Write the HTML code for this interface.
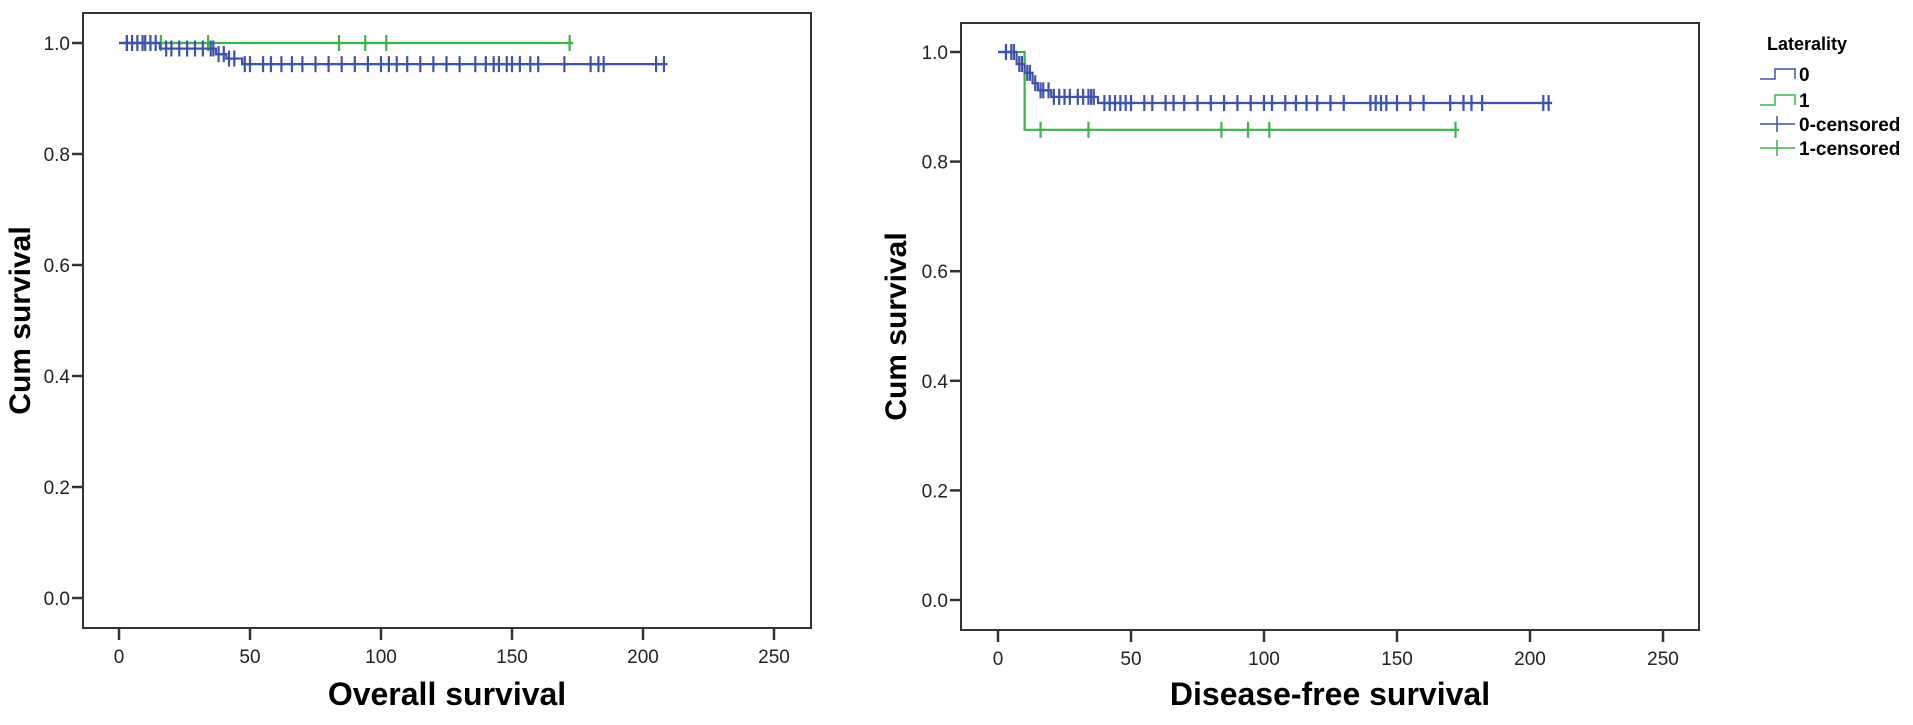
<!DOCTYPE html>
<html><head><meta charset="utf-8"><style>
body{margin:0;background:#fff;}
svg{display:block;font-family:"Liberation Sans",Arial,sans-serif;}
</style></head><body>
<svg id="chart" width="1913" height="725" viewBox="0 0 1913 725" xmlns="http://www.w3.org/2000/svg">
<g id="left"></g>
<g id="right"></g>
<g id="legend">
 <text x="1767" y="50" font-size="18" font-weight="bold">Laterality</text>
 <g><path d="M1760 79 H1775 V69 H1795 V79" fill="none" stroke="#3f51a8" stroke-width="1.5"/><text x="1799" y="81" font-size="19" font-weight="bold">0</text></g>
 <g><path d="M1760 105 H1775 V95 H1795 V105" fill="none" stroke="#3cb44a" stroke-width="1.5"/><text x="1799" y="107" font-size="19" font-weight="bold">1</text></g>
 <g><path d="M1760 124 H1795 M1777 116 V132" stroke="#3f51a8" stroke-width="1.5"/><text x="1799" y="131" font-size="19" font-weight="bold">0-censored</text></g>
 <g><path d="M1760 148 H1795 M1777 140 V156" stroke="#3cb44a" stroke-width="1.5"/><text x="1799" y="155" font-size="19" font-weight="bold">1-censored</text></g>
</g>
</svg>
<script>
// X ticks / Y ticks
const xTicks = [0, 50, 100, 150, 200, 250];
const yTicks = [0.0, 0.2, 0.4, 0.6, 0.8, 1.0];
const yTickLabels = ["0.0", "0.2", "0.4", "0.6", "0.8", "1.0"];

// Overall survival, group 0 (event times and survival after each)
const osTimes0 = [0, 15.6, 37, 41, 47];
const osSurv0 = [1.0, 0.99, 0.98, 0.972, 0.962];
const osEnd0 = 208;
const osCens0 = [3,5,7,9,10,12,14,18,20,23,26,29,32,35,36,38,40,42,44,48,50,55,58,62,66,70,75,80,85,90,95,100,103,106,110,115,120,125,130,136,140,143,145,148,150,153,157,160,170,180,183,185,205,208];
// Overall survival, group 1
const osTimes1 = [0];
const osSurv1 = [1.0];
const osEnd1 = 172;
const osCens1 = [3, 16, 34, 84, 94, 102, 172];

// Disease-free survival, group 0
const dfsTimes0 = [0, 7, 10, 13, 15, 20, 37.6];
const dfsSurv0 = [1.0, 0.978, 0.962, 0.943, 0.93, 0.918, 0.907];
const dfsEnd0 = 206;
const dfsCens0 = [3,5,6,8,9,11,12,14,16,17,19,21,23,25,27,30,32,34,35,36,40,42,44,46,48,50,55,58,63,66,70,75,80,85,90,95,100,103,108,112,116,120,125,130,140,142,144,146,150,155,160,170,175,178,182,205,207];
// Disease-free survival, group 1
const dfsTimes1 = [0, 10];
const dfsSurv1 = [1.0, 0.858];
const dfsEnd1 = 172;
const dfsCens1 = [3, 16, 34, 84, 94, 102, 172];

const NS = "http://www.w3.org/2000/svg";
function mk(parent, tag, attrs, text){
  const e = document.createElementNS(NS, tag);
  for (const k in attrs) e.setAttribute(k, attrs[k]);
  if (text !== undefined) e.textContent = text;
  parent.appendChild(e);
  return e;
}
function stepVal(times, surv, t){
  let s = surv[0];
  for (let i=0;i<times.length;i++) if (times[i] <= t) s = surv[i];
  return s;
}

function drawPanel(g, P){
  const xs = t => P.x0 + t * P.xk;
  const ys = v => P.y0 - v * P.yk;
  const frame = mk(g, "rect", {x:P.l, y:P.t, width:P.r-P.l, height:P.b-P.t, fill:"none", stroke:"#333", "stroke-width":2});
  
  
  xTicks.forEach(v=>{
    const x = xs(v);
    const tk = mk(g, "line", {x1:x, y1:P.b, x2:x, y2:P.b+12, stroke:"#333", "stroke-width":2.5});
    
    
    const lb = mk(g, "text", {x:x, y:P.b+35, "font-size":19, "text-anchor":"middle", fill:"#222"}, String(v));
    
    
  });
  yTicks.forEach((v,i)=>{
    const y = ys(v);
    const tk = mk(g, "line", {x1:P.l-11, y1:y, x2:P.l, y2:y, stroke:"#333", "stroke-width":2.5});
    
    
    const lb = mk(g, "text", {x:P.l-13, y:y+7, "font-size":19, "text-anchor":"end", fill:"#222"}, yTickLabels[i]);
    
    
  });
  const xt = mk(g, "text", {x:(P.l+P.r)/2, y:705, "font-size":32, "font-weight":"bold", "text-anchor":"middle"}, P.xTitle);
  
  
  const yt = mk(g, "text", {x:0, y:0, "font-size":30, "font-weight":"bold", "text-anchor":"middle", transform:`translate(${P.yTitleX},${(P.t+P.b)/2}) rotate(-90)`}, "Cum survival");
  
  

  P.series.forEach(S=>{
    let d = `M${xs(S.times[0])} ${ys(S.surv[0])}`;
    for (let i=1;i<S.times.length;i++){
      d += ` H${xs(S.times[i])} V${ys(S.surv[i])}`;
    }
    d += ` H${xs(S.end)}`;
    const p = mk(g, "path", {d:d, fill:"none", stroke:S.color, "stroke-width":2.2});
    
    
    S.cens.forEach(t=>{
      const x = xs(t), y = ys(stepVal(S.times, S.surv, t));
      const c = mk(g, "path", {d:`M${x} ${y-8} V${y+8} M${x-3.5} ${y} H${x+3.5}`, stroke:S.color, "stroke-width":2.2});
      
      
    });
  });
}

const BLUE = "#3f51a8", GREEN = "#3cb44a";
drawPanel(document.getElementById("left"), {
  l:83, r:811, t:13, b:628, x0:119, xk:131/50, y0:598, yk:555,
  xTitle:"Overall survival", yTitleX:30,
  series:[
    {name:"os-group-1", times:osTimes1, surv:osSurv1, end:osEnd1, cens:osCens1, color:GREEN},
    {name:"os-group-0", times:osTimes0, surv:osSurv0, end:osEnd0, cens:osCens0, color:BLUE}
  ]
});
drawPanel(document.getElementById("right"), {
  l:961, r:1699, t:23, b:630, x0:998, xk:133/50, y0:600, yk:548,
  xTitle:"Disease-free survival", yTitleX:906,
  series:[
    {name:"dfs-group-1", times:dfsTimes1, surv:dfsSurv1, end:dfsEnd1, cens:dfsCens1, color:GREEN},
    {name:"dfs-group-0", times:dfsTimes0, surv:dfsSurv0, end:dfsEnd0, cens:dfsCens0, color:BLUE}
  ]
});
</script>
</body></html>
